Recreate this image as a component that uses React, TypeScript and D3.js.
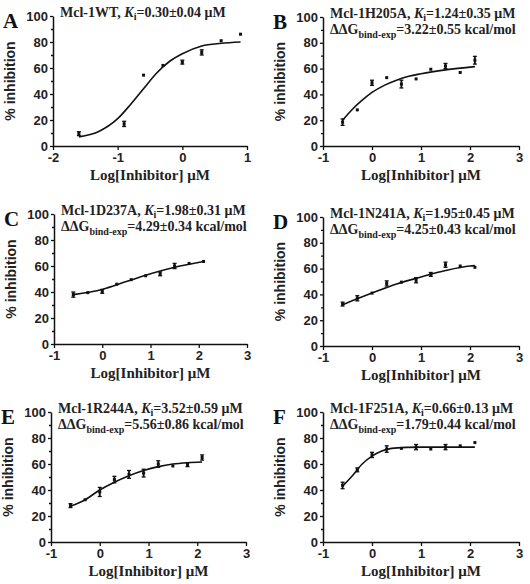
import * as d3 from 'd3';
import React, { useEffect } from 'react';

// log[inhibitor] (uM) tested for wild type and for the mutants
const logConcWT = [-1.6, -0.9, -0.6, -0.3, 0, 0.3, 0.6, 0.9];
const logConcMut = [-0.6, -0.3, 0, 0.3, 0.6, 0.9, 1.2, 1.5, 1.8, 2.1];

// % inhibition means and error half-widths
const inhibA = [9.5, 17, 54.5, 62, 64.5, 72, 81, 86];
const errA = [1.5, 2, 0.5, 0.5, 1.5, 2, 0.5, 0.5];
const inhibB = [18.5, 28, 49, 53, 48, 52, 59.5, 62, 57, 66.5];
const errB = [2.5, 0.5, 2, 0.5, 3, 0.5, 0.5, 2, 0.5, 3];
const inhibC = [38, 39.5, 40.5, 46, 49.5, 52.5, 54, 60, 62, 63.5];
const errC = [2, 0.5, 1.5, 0.5, 0.5, 0.5, 1.5, 2, 0.5, 0.5];
const inhibD = [32.5, 37, 41, 48.5, 49.5, 51, 55.5, 63, 62, 61];
const errD = [1.5, 2, 0.5, 2, 0.5, 2, 1.5, 2, 0.5, 0.5];
const inhibE = [28, 32.5, 38.5, 48, 52, 53, 60, 58.5, 59.5, 65];
const errE = [1.5, 0.5, 3.5, 2.5, 3, 3, 2.5, 0.5, 1.5, 2];
const inhibF = [43.5, 55.5, 67, 71.5, 72, 73, 71.5, 73, 74, 76.5];
const errF = [2.5, 1.5, 2, 2.5, 0.5, 2, 0.5, 2, 0.5, 0.5];

// fitted curves, read as [log conc, % inhibition]
const fitA: [number, number][] = [[-1.6, 7], [-1.3, 11], [-1.0, 21], [-0.8, 32], [-0.6, 44], [-0.4, 56], [-0.2, 65], [0, 71], [0.3, 77], [0.6, 79], [0.9, 80]];
const fitB: [number, number][] = [[-0.6, 20], [-0.4, 28.5], [-0.2, 35.5], [0, 41.5], [0.25, 47], [0.5, 51], [0.75, 54], [1, 56], [1.5, 59], [2.1, 61.5]];
const fitC: [number, number][] = [[-0.6, 38], [0, 42], [0.5, 48], [1, 54], [1.5, 59], [2.1, 63.5]];
const fitD: [number, number][] = [[-0.6, 32], [0, 41], [0.5, 48], [1, 53.5], [1.5, 58.5], [2, 62], [2.1, 62.3]];
const fitE: [number, number][] = [[-0.6, 27.5], [-0.3, 32.5], [0, 40], [0.3, 46], [0.6, 51], [0.9, 55], [1.2, 58], [1.5, 60], [1.8, 61], [2.1, 61.5]];
const fitF: [number, number][] = [[-0.6, 43], [-0.4, 51], [-0.2, 60], [0, 66], [0.2, 70], [0.4, 72], [0.7, 72.8], [1, 73], [2.1, 73]];

const letters = ['A', 'B', 'C', 'D', 'E', 'F'];
const mutants = ['Mcl-1WT', 'Mcl-1H205A', 'Mcl-1D237A', 'Mcl-1N241A', 'Mcl-1R244A', 'Mcl-1F251A'];
const kiLabels = ['0.30±0.04', '1.24±0.35', '1.98±0.31', '1.95±0.45', '3.52±0.59', '0.66±0.13'];
const ddgLabels = ['', '3.22±0.55', '4.29±0.34', '4.25±0.43', '5.56±0.86', '1.79±0.44'];
const yTicks = [0, 20, 40, 60, 80, 100];
const yMinor = [10, 30, 50, 70, 90];

const SANS = '"Liberation Sans", Arial, sans-serif';
const SERIF = '"Liberation Serif", "Times New Roman", serif';

export default function App() {
  const ref = React.useRef<SVGSVGElement>(null);

  useEffect(() => {
    if (!ref.current) return;
    const svg = d3.select(ref.current);
    svg.selectAll('*').remove();

    // plot boxes: left, top, right, bottom
    const boxes = [
      [53, 16, 247, 146],
      [323, 17, 519, 146],
      [54, 214, 247, 344],
      [323, 217, 519, 346],
      [51, 412, 246, 542],
      [323, 412, 519, 542],
    ];
    const xs = [logConcWT, logConcMut, logConcMut, logConcMut, logConcMut, logConcMut];
    const means = [inhibA, inhibB, inhibC, inhibD, inhibE, inhibF];
    const errs = [errA, errB, errC, errD, errE, errF];
    const fits = [fitA, fitB, fitC, fitD, fitE, fitF];

    boxes.forEach(([l, t, r, b], i) => {
      const xDomain = i === 0 ? [-2, 1] : [-1, 3];
      const x = d3.scaleLinear().domain(xDomain).range([l, r]);
      const y = d3.scaleLinear().domain([0, 100]).range([b, t]);
      const g = svg.append('g');

      // axes
      const yAx = g.append('g').attr('transform', `translate(${l},0)`)
        .call(d3.axisLeft(y).tickValues(yTicks).tickSize(3).tickSizeOuter(0).tickPadding(2));
      g.append('g').attr('transform', `translate(${l},0)`)
        .call(d3.axisLeft(y).tickValues(yMinor).tickSize(2).tickFormat(() => ''))
        .call(s => s.select('.domain').remove());
      const xAx = g.append('g').attr('transform', `translate(0,${b})`)
        .call(d3.axisBottom(x).tickValues(d3.range(xDomain[0], xDomain[1] + 1)).tickSize(4).tickSizeOuter(0).tickPadding(3)
          .tickFormat(d => d3.format('d')(d as number).replace('−', '-')));
      [yAx, xAx].forEach(ax => {
        ax.selectAll('path, line').attr('stroke', '#111').attr('stroke-width', 1.5);
        ax.selectAll('text').attr('font-family', SANS).attr('font-weight', 'bold')
          .attr('font-size', 13).attr('fill', '#222');
      });
      g.selectAll('g line').attr('stroke', '#111').attr('stroke-width', 1.3);

      // fitted curve
      g.append('path')
        .datum(fits[i])
        .attr('fill', 'none')
        .attr('stroke', '#111')
        .attr('stroke-width', 1.6)
        .attr('d', d3.line<[number, number]>().x(d => x(d[0])).y(d => y(d[1])).curve(d3.curveMonotoneX));

      // data points with error bars
      const pts = xs[i].map((c, k) => ({ c, m: means[i][k], e: errs[i][k] }));
      const pg = g.selectAll('g.pt').data(pts).enter().append('g').attr('class', 'pt');
      pg.append('line')
        .attr('x1', d => x(d.c)).attr('x2', d => x(d.c))
        .attr('y1', d => y(d.m - d.e)).attr('y2', d => y(d.m + d.e))
        .attr('stroke', '#111').attr('stroke-width', 1.8);
      pg.filter(d => d.e > 1).selectAll('line.cap')
        .data(d => [d.m - d.e, d.m + d.e].map(v => ({ c: d.c, v })))
        .enter().append('line').attr('class', 'cap')
        .attr('x1', d => x(d.c) - 2).attr('x2', d => x(d.c) + 2)
        .attr('y1', d => y(d.v)).attr('y2', d => y(d.v))
        .attr('stroke', '#111').attr('stroke-width', 1.3);
      pg.append('rect')
        .attr('x', d => x(d.c) - 1.5).attr('y', d => y(d.m) - 1.5)
        .attr('width', 3).attr('height', 3).attr('fill', '#111');

      // axis titles
      g.append('text')
        .attr('transform', `translate(${l - 38},${(t + b) / 2}) rotate(-90)`)
        .attr('text-anchor', 'middle')
        .attr('font-family', SANS).attr('font-weight', 'bold').attr('font-size', 14).attr('fill', '#222')
        .text('% inhibition');
      g.append('text')
        .attr('x', (l + r) / 2).attr('y', b + 34)
        .attr('text-anchor', 'middle')
        .attr('font-family', SERIF).attr('font-weight', 'bold').attr('font-size', 15).attr('fill', '#222')
        .text('Log[Inhibitor] μM');

      // panel letter
      g.append('text')
        .attr('x', Math.max(l - 50, 1)).attr('y', t + 12)
        .attr('font-family', SERIF).attr('font-weight', 'bold').attr('font-size', 21).attr('fill', '#111')
        .text(letters[i]);

      // titles
      const t1 = g.append('text')
        .attr('x', l + 7).attr('y', t + 1)
        .attr('font-family', SERIF).attr('font-weight', 'bold').attr('font-size', 14).attr('fill', '#222');
      t1.append('tspan').text(`${mutants[i]}, `);
      t1.append('tspan').attr('font-style', 'italic').text('K');
      t1.append('tspan').attr('font-size', 10).attr('dy', 3).text('i');
      t1.append('tspan').attr('dy', -3).text(`=${kiLabels[i]} μM`);
      if (ddgLabels[i]) {
        const t2 = g.append('text')
          .attr('x', l + 7).attr('y', t + 17)
          .attr('font-family', SERIF).attr('font-weight', 'bold').attr('font-size', 14).attr('fill', '#222');
        t2.append('tspan').text('ΔΔG');
        t2.append('tspan').attr('font-size', 10).attr('dy', 4).text('bind-exp');
        t2.append('tspan').attr('dy', -4).text(`=${ddgLabels[i]} kcal/mol`);
      }
    });
  }, []);

  return (
    <svg ref={ref} width={530} height={584}
      style={{ position: 'absolute', left: 0, top: 0, background: '#fff' }} />
  );
}
